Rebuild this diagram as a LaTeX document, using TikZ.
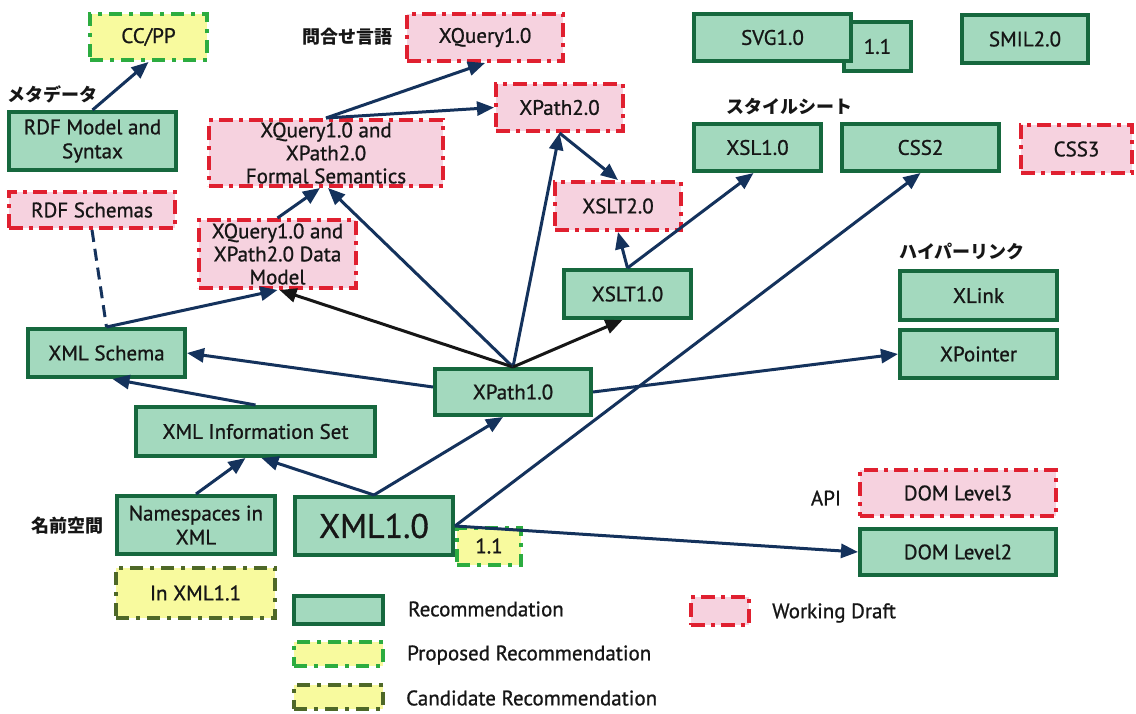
\documentclass[tikz,border=0pt]{standalone}
\usepackage{fontspec}
\setmainfont{PT Sans}[FakeBold=0.9]
\newfontfamily\jpfont{Noto Sans CJK JP}
\usetikzlibrary{arrows.meta}

\definecolor{recfill}{RGB}{163,217,190}
\definecolor{recline}{RGB}{22,104,62}
\definecolor{wdfill}{RGB}{246,210,223}
\definecolor{wdline}{RGB}{224,32,48}
\definecolor{prfill}{RGB}{248,250,158}
\definecolor{prline}{RGB}{44,172,64}
\definecolor{crline}{RGB}{78,104,40}
\definecolor{navy}{RGB}{20,50,92}
\definecolor{ink}{RGB}{22,22,22}

\tikzset{
  box/.style={inner sep=0pt, align=center, text=ink, line width=4pt,
    font=\fontsize{21}{24}\selectfont},
  rec/.style={box, fill=recfill, draw=recline},
  wd/.style={box, fill=wdfill, draw=wdline,
    dash pattern=on 14pt off 6pt on 4pt off 6pt},
  pr/.style={box, fill=prfill, draw=prline,
    dash pattern=on 13pt off 7pt on 4pt off 7pt},
  cr/.style={box, fill=prfill, draw=crline,
    dash pattern=on 13pt off 7pt on 4pt off 7pt},
  sz/.style n args={2}{minimum width=#1pt, minimum height=#2pt},
  link/.style={color=navy, line width=3pt, -{Triangle[length=17pt,width=14pt]}},
  blink/.style={link, color=ink},
  dashline/.style={color=navy, line width=3pt, dash pattern=on 12pt off 7pt},
  jp/.style={inner sep=0pt, text=ink, font=\jpfont\bfseries\fontsize{18}{18}\selectfont},
  legtext/.style={inner sep=0pt, anchor=west, text=ink, font=\fontsize{21}{24}\selectfont},
}

\begin{document}
\begin{tikzpicture}[x=1pt, y=-1pt]
\fill[white] (0,0) rectangle (1136,713);
\useasboundingbox (0,0) rectangle (1136,713);

% ---- specification boxes ----
\node[pr,  sz={117}{46}] (ccpp)   at (148.5,37)  {CC/PP};
\node[wd,  sz={156}{47}] (xq)     at (485,37.5)  {XQuery1.0};
\node[rec, sz={67}{49}]  (svg11)  at (877.5,46.5) {1.1};
\node[rec, sz={157}{47}] (svg)    at (772.5,37.5) {SVG1.0};
\node[rec, sz={126}{48}] (smil)   at (1025,39)   {SMIL2.0};
\node[rec, sz={167}{58}] (rdfm)   at (92.5,141)  {RDF Model and\\Syntax};
\node[wd,  sz={234}{66}, font=\fontsize{21}{23}\selectfont] (fs) at (326,153)
  {XQuery1.0 and\\XPath2.0\\Formal Semantics};
\node[wd,  sz={127}{47}] (xp2)    at (559.5,107.5) {XPath2.0};
\node[rec, sz={127}{47}] (xsl)    at (757.5,147.5) {XSL1.0};
\node[rec, sz={157}{47}] (css2)   at (920.5,147.5) {CSS2};
\node[wd,  sz={111}{48}] (css3)   at (1076.5,149) {CSS3};
\node[wd,  sz={166}{36}] (rdfs)   at (92,210)    {RDF Schemas};
\node[wd,  sz={126}{48}] (xslt2)  at (618,206)   {XSLT2.0};
\node[wd,  sz={157}{68}, font=\fontsize{21}{23}\selectfont] (dm) at (277.5,254)
  {XQuery1.0 and\\XPath2.0 Data\\Model};
\node[rec, sz={127}{48}] (xslt1)  at (627.5,294) {XSLT1.0};
\node[rec, sz={157}{49}] (xlink)  at (978.5,295.5) {XLink};
\node[rec, sz={157}{48}] (xptr)   at (978.5,354) {XPointer};
\node[rec, sz={157}{48}] (xs)     at (106.5,353) {XML Schema};
\node[rec, sz={156}{46}] (xpath1) at (513,392)   {XPath1.0};
\node[rec, sz={239}{49}] (xis)    at (255.5,431.5) {XML Information Set};
\node[wd,  sz={196}{46}] (dom3)   at (958,493)   {DOM Level3};
\node[rec, sz={196}{46}] (dom2)   at (958,552)   {DOM Level2};
\node[rec, sz={158}{58}] (ns)     at (196,525)   {Namespaces in\\XML};
\node[pr,  sz={64}{37}]  (x11)    at (489,546)   {1.1};
\node[rec, sz={158}{58}, font=\fontsize{34}{36}\selectfont] (xml) at (374,526) {XML1.0};
\node[cr,  sz={159}{50}] (inxml)  at (195.5,593) {In XML1.1};

% ---- group labels ----
\node[jp] (lq)   at (347,37)  {問合せ言語};
\node[jp] (lmd)  at (52,94)   {メタデータ};
\node[jp] (lss)  at (789,107) {スタイルシート};
\node[jp] (lhl)  at (962,251) {ハイパーリンク};
\node[jp] (lns)  at (67,526)  {名前空間};
\node[inner sep=0pt, text=ink, font=\fontsize{21}{24}\selectfont] (lapi) at (826,498) {API};

% ---- dependencies ----
\draw[link]  (rdfm.north) -- (ccpp.south);
\draw[link]  (fs.north) -- (xq.south);
\draw[link]  (fs.north) -- (xp2.west);
\draw[link]  (dm.north) -- ([xshift=-6pt]fs.south);
\draw[link]  (xpath1.north) -- ([xshift=2pt]fs.south);
\draw[blink] (xpath1.north) -- ([xshift=2pt]dm.south);
\draw[link]  (xpath1.north) -- (xp2.south);
\draw[blink] (xpath1.north) -- ([xshift=-5pt]xslt1.south);
\draw[link]  (xp2.south) -- (xslt2.north);
\draw[link]  (xslt1.north) -- (xslt2.south);
\draw[link]  (xslt1.north) -- ([xshift=-4pt]xsl.south);
\draw[link]  (xml.east) -- (css2.south);
\draw[link]  (xml.east) -- (dom2.west);
\draw[link]  (xs.north) -- (dm.south);
\draw[dashline] (rdfs.south) -- (xs.north);
\draw[link]  ([yshift=5pt]xpath1.west) -- (xs.east);
\draw[link]  (xis.north) -- ([xshift=6pt]xs.south);
\draw[link]  (xpath1.east) -- (xptr.west);
\draw[link]  (ns.north) -- ([xshift=-10pt]xis.south);
\draw[link]  (xml.north) -- ([xshift=6pt]xis.south);
\draw[link]  (xml.north) -- ([xshift=-10pt]xpath1.south);

% ---- legend ----
\node[rec, sz={89}{28}] (lrec) at (338.5,610) {};
\node[legtext] (trec) at (408,609) {Recommendation};
\node[wd,  sz={58}{28}] (lwd)  at (720,611)   {};
\node[legtext] (twd)  at (772,613) {Working Draft};
\node[pr,  sz={89}{24}] (lpr)  at (338.5,654) {};
\node[legtext] (tpr)  at (407,655) {Proposed Recommendation};
\node[cr,  sz={89}{24}] (lcr)  at (338.5,697) {};
\node[legtext] (tcr)  at (406,698) {Candidate Recommendation};
\end{tikzpicture}
\end{document}
